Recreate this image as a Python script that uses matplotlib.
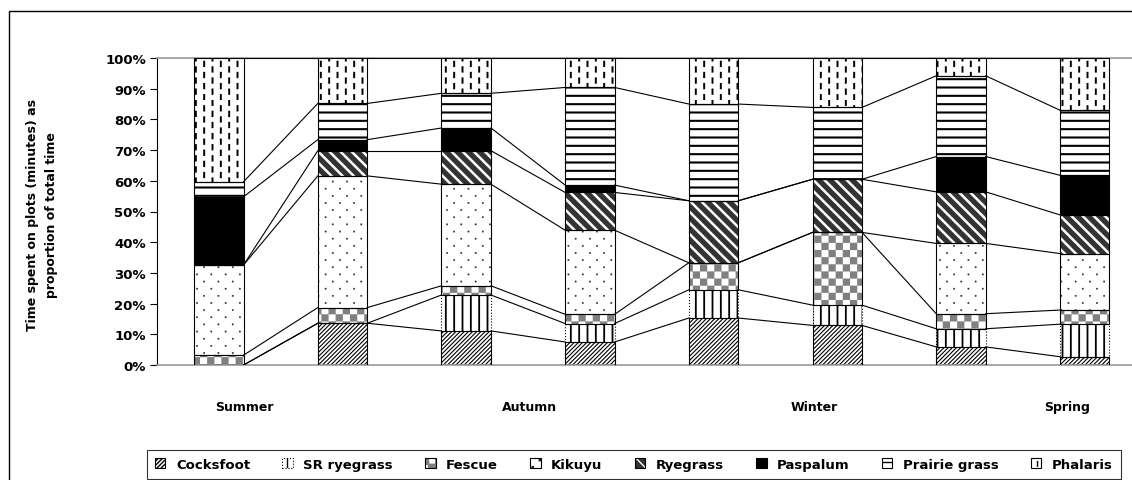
import warnings
import numpy as np
import matplotlib
matplotlib.use("Agg")
import matplotlib.pyplot as plt
from matplotlib import hatch as mhatch
from matplotlib.path import Path
from matplotlib.patches import Rectangle

warnings.filterwarnings("ignore")

# grazing time share per plot, bottom to top of each stacked bar (%)
species = ['Cocksfoot', 'SR ryegrass', 'Fescue', 'Kikuyu', 'Ryegrass',
           'Paspalum', 'Prairie grass', 'Phalaris']
cocksfoot = [0, 13.6, 11.1, 7.5, 15.3, 12.9, 5.9, 2.7]
sr_ryegrass = [0, 0, 11.7, 6.0, 9.2, 6.6, 5.9, 10.6]
fescue = [3.2, 5.1, 3.0, 3.0, 8.8, 23.7, 4.9, 4.6]
kikuyu = [29.4, 42.9, 33.1, 27.4, 0, 0, 22.9, 18.4]
ryegrass = [0, 8.2, 10.9, 12.3, 20.2, 17.3, 16.8, 12.6]
paspalum = [22.2, 3.6, 7.4, 2.4, 0, 0, 11.5, 12.9]
prairie_grass = [4.9, 11.8, 11.3, 31.8, 31.5, 23.4, 26.3, 21.2]
phalaris = [40.3, 14.8, 11.5, 9.6, 15.0, 16.1, 5.8, 17.0]

seasons = ['Summer', 'Autumn', 'Winter', 'Spring']
season_pos = [0.21, 2.51, 4.81, 6.86]

values = [cocksfoot, sr_ryegrass, fescue, kikuyu, ryegrass,
          paspalum, prairie_grass, phalaris]


# --- extra hatch tiles (checker, dots, vertical dashes) -------------------
def squares(pts, side):
    v, c = [], []
    for x, y in pts:
        v += [(x, y), (x + side, y), (x + side, y + side), (x, y + side), (x, y)]
        c += [Path.MOVETO, Path.LINETO, Path.LINETO, Path.LINETO, Path.CLOSEPOLY]
    return v, c


n = 14
checker = squares([(i / n, j / n) for i in range(n) for j in range(n)
                   if (i + j) % 2 == 0], 1.0 / n)
dots = squares([((c + 0.25 + 0.5 * (r % 2)) / 7, (r + 0.5) / 14)
                for r in range(14) for c in range(7)], 0.012)
dash_v, dash_c = [], []
for col in range(12):
    for k in range(9):
        yc = (k + (0.25 if col % 2 == 0 else 0.75)) / 9
        dash_v += [((col + 0.5) / 12, yc - 0.022), ((col + 0.5) / 12, yc + 0.022)]
        dash_c += [Path.MOVETO, Path.LINETO]

TILES = {'c': checker, 'k': dots, 'p': (dash_v, dash_c)}


class TileHatch(mhatch.HatchPatternBase):
    def __init__(self, hatch, density):
        self.verts, self.codes = [], []
        for key, (v, c) in TILES.items():
            if key in hatch:
                self.verts += v
                self.codes += c
        self.num_vertices = len(self.verts)

    def set_vertices_and_codes(self, vertices, codes):
        vertices[:] = self.verts
        codes[:] = self.codes


mhatch._hatch_types.append(TileHatch)

# face, hatch, hatch colour, hatch linewidth, outline style
styles = [
    ('white', '////////', 'black', 0.8, '-'),
    ('white', '||', 'black', 1.3, ':'),
    ('white', 'c', '#808080', 0.1, '-'),
    ('white', 'k', '#222222', 0.3, '-'),
    ('#333333', '\\\\\\', 'white', 1.8, '-'),
    ('black', None, 'black', 1.0, '-'),
    ('white', '--', 'black', 1.5, '-'),
    ('white', 'p', 'black', 1.4, '-'),
]

plt.rcParams['font.family'] = 'DejaVu Sans'
plt.rcParams['font.weight'] = 'bold'

fig = plt.figure(figsize=(11.32, 4.81), dpi=100)
ax = fig.add_axes([157 / 1132, 1 - 366 / 481, 989.5 / 1132, 307 / 481])

x = np.arange(len(cocksfoot))
w = 0.4
bottom = np.zeros(len(x))
handles = []
tops = []
for vals, (face, hatch, hcol, hlw, ls) in zip(values, styles):
    vals = np.array(vals, dtype=float)
    fill = ax.bar(x, vals, w, bottom=bottom, color=face, edgecolor=hcol,
                  linewidth=0, hatch=hatch, zorder=2)
    for p in fill:
        if hasattr(p, 'set_hatch_linewidth'):
            p.set_hatch_linewidth(hlw)
    edge = ax.bar(x, vals, w, bottom=bottom, fill=False, edgecolor='black',
                  linewidth=0.8, linestyle=ls, zorder=3)
    handles.append((fill, edge))
    bottom = bottom + vals
    tops.append(bottom.copy())

# series lines joining the top of each segment between neighbouring bars
for top in tops:
    for j in range(len(x) - 1):
        ax.plot([x[j] + w / 2, x[j + 1] - w / 2], [top[j], top[j + 1]],
                color='black', linewidth=0.8, zorder=4)

ax.set_xlim(-0.5, len(x) - 0.5)
ax.set_ylim(0, 100)
ax.set_yticks(np.arange(0, 101, 10))
ax.set_yticklabels([f'{v}%' for v in range(0, 101, 10)], fontsize=9.5,
                   fontweight='bold')
ax.tick_params(axis='y', direction='out', length=5, width=0.8, pad=3)
ax.set_xticks(season_pos)
ax.set_xticklabels(seasons, fontsize=9, fontweight='bold')
ax.tick_params(axis='x', length=0, pad=25)

ax.spines['left'].set_color('black')
ax.spines['left'].set_linewidth(0.8)
for s in ['top', 'bottom']:
    ax.spines[s].set_color('#9a9a9a')
    ax.spines[s].set_linewidth(1.2)
ax.spines['right'].set_visible(False)

fig.text(42 / 1132, 1 - 215 / 481,
         'Time spent on plots (minutes) as\nproportion of total time',
         rotation=90, ha='center', va='center', multialignment='center',
         fontsize=9, fontweight='bold', linespacing=1.5)

leg = fig.legend(handles, species, loc='upper left',
                 bbox_to_anchor=(147 / 1132, 0, 973.7 / 1132, 1 - 450.7 / 481),
                 mode='expand', ncol=8, frameon=True, fancybox=False,
                 borderaxespad=0, borderpad=0.6, handlelength=0.8,
                 handleheight=0.8, handletextpad=0.8, columnspacing=1.0,
                 prop={'weight': 'bold', 'size': 9.5})
leg.get_frame().set_edgecolor('black')
leg.get_frame().set_linewidth(0.8)

fig.patches.append(Rectangle((8.5 / 1132, -0.1), 1.2, 1.1 - 12.3 / 481,
                             transform=fig.transFigure, fill=False,
                             edgecolor='black', linewidth=1.0))

fig.savefig('out.png', dpi=100)
